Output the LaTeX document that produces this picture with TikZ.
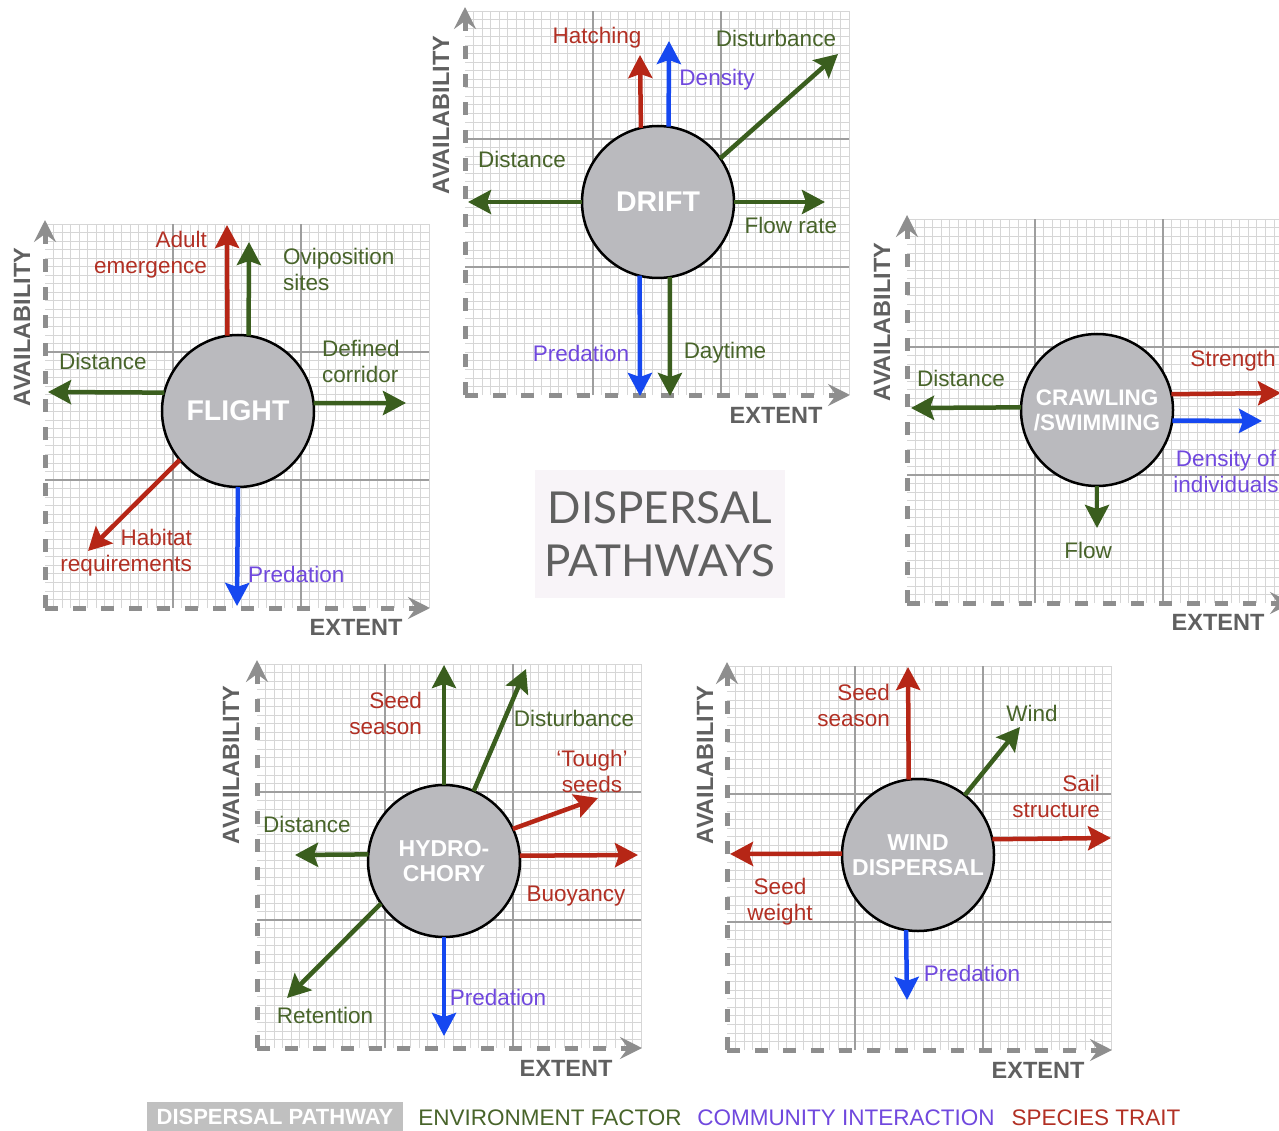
\documentclass[tikz,border=0pt]{standalone}
\usepackage{fontspec}
\setmainfont{Liberation Sans}
\newfontfamily\titlefont{Lato}
\usetikzlibrary{arrows.meta}

\definecolor{envgreen}{RGB}{58,94,30}
\definecolor{envtext}{RGB}{72,100,42}
\definecolor{traitred}{RGB}{182,38,22}
\definecolor{traittext}{RGB}{178,48,36}
\definecolor{commblue}{RGB}{22,72,240}
\definecolor{commtext}{RGB}{112,72,222}
\definecolor{axisgrey}{RGB}{142,142,142}
\definecolor{labelgrey}{RGB}{96,96,96}
\definecolor{pathgrey}{RGB}{186,186,190}
\definecolor{titlebg}{RGB}{248,244,248}
\definecolor{legendgrey}{RGB}{192,192,192}

\tikzset{
  minorgrid/.style={draw=black!16, line width=0.8pt},
  majorgrid/.style={draw=black!38, line width=1.1pt},
  axisline/.style={draw=axisgrey, line width=5pt, dash pattern=on 13pt off 15pt,
    -{Stealth[length=22pt,width=22pt,inset=8pt]}},
  envarrow/.style={draw=envgreen, line width=4.5pt, -{Stealth[length=23pt,width=24pt,inset=4pt]}},
  traitarrow/.style={draw=traitred, line width=4.5pt, -{Stealth[length=23pt,width=24pt,inset=4pt]}},
  commarrow/.style={draw=commblue, line width=4.5pt, -{Stealth[length=23pt,width=24pt,inset=4pt]}},
  envlabel/.style={text=envtext, inner sep=0pt, font=\fontsize{22.5}{26}\selectfont},
  traitlabel/.style={text=traittext, inner sep=0pt, font=\fontsize{22.5}{26}\selectfont},
  commlabel/.style={text=commtext, inner sep=0pt, font=\fontsize{22.5}{26}\selectfont},
  axislabel/.style={text=labelgrey, inner sep=0pt, font=\bfseries\fontsize{23.5}{26}\selectfont},
  pathway/.style={circle, draw=black, line width=2.5pt, fill=pathgrey, minimum size=152pt,
    inner sep=0pt, outer sep=0pt, text=white, align=center, font=\bfseries\fontsize{23}{25}\selectfont},
}

\newcommand{\panelgrid}[2]{%
  \foreach \k in {1,...,45}{
    \draw[minorgrid] ({#1+\k*8.5333},#2) -- ++(0,-384);
    \draw[minorgrid] (#1,{#2-\k*8.5333}) -- ++(384,0);
  }
  \foreach \k in {1,2}{
    \draw[majorgrid] ({#1+\k*128},#2) -- ++(0,-384);
    \draw[majorgrid] (#1,{#2-\k*128}) -- ++(384,0);
  }
  \draw[axisline] (#1,#2) -- ++(0,-388);
  \draw[axisline] (#1,#2) -- ++(385,0);
}

\begin{document}
\begin{tikzpicture}[x=1pt, y=-1pt]
\useasboundingbox (0,0) rectangle (1279,1131);
\fill[white] (0,0) rectangle (1279,1131);
\clip (0,0) rectangle (1279,1131);

\panelgrid{45}{608}
\panelgrid{465}{395}
\panelgrid{907}{603}
\panelgrid{257}{1048}
\panelgrid{727}{1050}

% flight
\node[pathway, font=\bfseries\fontsize{28.5}{30}\selectfont] (flight) at (238,411) {FLIGHT};
\coordinate (flAdultEnd) at (227,225);
\coordinate (flOviEnd) at (249,242);
\coordinate (flDistEnd) at (48,392);
\coordinate (flCorrEnd) at (406,403);
\coordinate (flHabEnd) at (88,551);
\coordinate (flPredEnd) at (237,606);
\draw[traitarrow] (flight.98) -- (flAdultEnd);
\draw[envarrow] (flight.82) -- (flOviEnd);
\draw[envarrow] (flight.166) -- (flDistEnd);
\draw[envarrow] (flight.6) -- (flCorrEnd);
\draw[traitarrow] (flight.220) -- (flHabEnd);
\draw[commarrow] (flight.270) -- (flPredEnd);
\node[traitlabel, anchor=east, align=right] (flAdult) at (207,255) {Adult\\emergence};
\node[envlabel, anchor=west, align=left] (flOvi) at (283,269) {Oviposition\\sites};
\node[envlabel] (flDist) at (103,361) {Distance};
\node[envlabel, anchor=west, align=left] (flCorr) at (322,361) {Defined\\corridor};
\node[traitlabel, anchor=east, align=right] (flHab) at (192,553) {Habitat\\requirements};
\node[commlabel, anchor=west] (flPred) at (248,574) {Predation};
\node[axislabel, rotate=90] (flAvail) at (22,327) {AVAILABILITY};
\node[axislabel] (flExtent) at (356,627) {EXTENT};

% drift
\node[pathway, font=\bfseries\fontsize{28.5}{30}\selectfont] (drift) at (658,202) {DRIFT};
\coordinate (drHatchEnd) at (640,55);
\coordinate (drDensEnd) at (669,41);
\coordinate (drDistbEnd) at (838,54);
\coordinate (drDistEnd) at (468,202);
\coordinate (drFlowEnd) at (825,202);
\coordinate (drPredEnd) at (640,396);
\coordinate (drDayEnd) at (670,396);
\draw[traitarrow] (drift.103.5) -- (drHatchEnd);
\draw[commarrow] (drift.82) -- (drDensEnd);
\draw[envarrow] (drift.35) -- (drDistbEnd);
\draw[envarrow] (drift.180) -- (drDistEnd);
\draw[envarrow] (drift.0) -- (drFlowEnd);
\draw[commarrow] (drift.256.5) -- (drPredEnd);
\draw[envarrow] (drift.279) -- (drDayEnd);
\node[traitlabel] (drHatch) at (597,38) {Hatching};
\node[envlabel] (drDistb) at (776,38) {Disturbance};
\node[commlabel] (drDens) at (717,80) {Density};
\node[envlabel] (drDist) at (522,159) {Distance};
\node[envlabel] (drFlow) at (791,225) {Flow rate};
\node[commlabel] (drPred) at (581,353) {Predation};
\node[envlabel] (drDay) at (725,353) {Daytime};
\node[axislabel, rotate=90] (drAvail) at (441,115) {AVAILABILITY};
\node[axislabel] (drExtent) at (776,415) {EXTENT};

% crawling / swimming
\node[pathway, font=\bfseries\fontsize{22.5}{25}\selectfont] (crawl) at (1097,410) {CRAWLING\\/SWIMMING};
\coordinate (crDistEnd) at (911,408);
\coordinate (crStrEnd) at (1281,393);
\coordinate (crDensEnd) at (1262,421);
\coordinate (crFlowEnd) at (1097,528);
\draw[envarrow] (crawl.178.5) -- (crDistEnd);
\draw[traitarrow] (crawl.12.7) -- (crStrEnd);
\draw[commarrow] (crawl.-8.3) -- (crDensEnd);
\draw[envarrow] (crawl.270) -- (crFlowEnd);
\node[envlabel] (crDist) at (961,378) {Distance};
\node[traitlabel] (crStr) at (1233,361) {Strength};
\node[commlabel, align=center] (crDens) at (1226,471) {Density of\\individuals};
\node[envlabel] (crFlow) at (1088,550) {Flow};
\node[axislabel, rotate=90] (crAvail) at (882,322) {AVAILABILITY};
\node[axislabel] (crExtent) at (1218,622) {EXTENT};

% hydrochory
\node[pathway] (hydro) at (444,861) {HYDRO-\\CHORY};
\coordinate (hySeasEnd) at (444,665);
\coordinate (hyDistbEnd) at (526,669);
\coordinate (hyToughEnd) at (598,798);
\coordinate (hyBuoyEnd) at (638,855);
\coordinate (hyDistEnd) at (295,855);
\coordinate (hyRetEnd) at (287,998);
\coordinate (hyPredEnd) at (444,1036);
\draw[envarrow] (hydro.90) -- (hySeasEnd);
\draw[envarrow] (hydro.67.9) -- (hyDistbEnd);
\draw[traitarrow] (hydro.25.6) -- (hyToughEnd);
\draw[traitarrow] (hydro.4.5) -- (hyBuoyEnd);
\draw[envarrow] (hydro.175.5) -- (hyDistEnd);
\draw[envarrow] (hydro.214.5) -- (hyRetEnd);
\draw[commarrow] (hydro.270) -- (hyPredEnd);
\node[traitlabel, anchor=east, align=right] (hySeas) at (422,713) {Seed\\season};
\node[envlabel] (hyDistb) at (574,718) {Disturbance};
\node[traitlabel, align=center] (hyTough) at (592,771) {`Tough'\\seeds};
\node[envlabel] (hyDist) at (307,824) {Distance};
\node[traitlabel] (hyBuoy) at (576,896) {Buoyancy};
\node[envlabel] (hyRet) at (325,1015) {Retention};
\node[commlabel] (hyPred) at (498,997) {Predation};
\node[axislabel, rotate=90] (hyAvail) at (231,765) {AVAILABILITY};
\node[axislabel] (hyExtent) at (566,1068) {EXTENT};

% wind dispersal
\node[pathway] (wind) at (918,855) {WIND\\DISPERSAL};
\coordinate (wiSeasEnd) at (908,667);
\coordinate (wiWindEnd) at (1020,727);
\coordinate (wiSailEnd) at (1111,838);
\coordinate (wiWeightEnd) at (730,854);
\coordinate (wiPredEnd) at (907,1000);
\draw[traitarrow] (wind.97.5) -- (wiSeasEnd);
\draw[envarrow] (wind.52) -- (wiWindEnd);
\draw[traitarrow] (wind.12.7) -- (wiSailEnd);
\draw[traitarrow] (wind.179.2) -- (wiWeightEnd);
\draw[commarrow] (wind.261.8) -- (wiPredEnd);
\node[traitlabel, anchor=east, align=right] (wiSeas) at (890,705) {Seed\\season};
\node[envlabel] (wiWind) at (1032,713) {Wind};
\node[traitlabel, anchor=east, align=right] (wiSail) at (1100,796) {Sail\\structure};
\node[traitlabel, align=center] (wiWeight) at (780,902) {Seed\\weight};
\node[commlabel] (wiPred) at (972,973) {Predation};
\node[axislabel, rotate=90] (wiAvail) at (705,765) {AVAILABILITY};
\node[axislabel] (wiExtent) at (1038,1070) {EXTENT};

% title and legend
\node[fill=titlebg, minimum width=250pt, minimum height=128pt, inner sep=0pt, text=labelgrey,
  align=center, font=\titlefont\fontsize{44}{53}\selectfont] (title) at (660,534) {DISPERSAL\\PATHWAYS};
\node[fill=legendgrey, text=white, minimum width=256pt, minimum height=30pt, inner sep=0pt,
  font=\bfseries\fontsize{22}{24}\selectfont] (legPath) at (275,1117) {DISPERSAL PATHWAY};
\node[envlabel, font=\fontsize{22.5}{24}\selectfont] (legEnv) at (550,1118) {ENVIRONMENT FACTOR};
\node[commlabel, font=\fontsize{22.5}{24}\selectfont] (legComm) at (846,1118) {COMMUNITY INTERACTION};
\node[traitlabel, font=\fontsize{22.5}{24}\selectfont] (legTrait) at (1096,1118) {SPECIES TRAIT};
\end{tikzpicture}
\end{document}
